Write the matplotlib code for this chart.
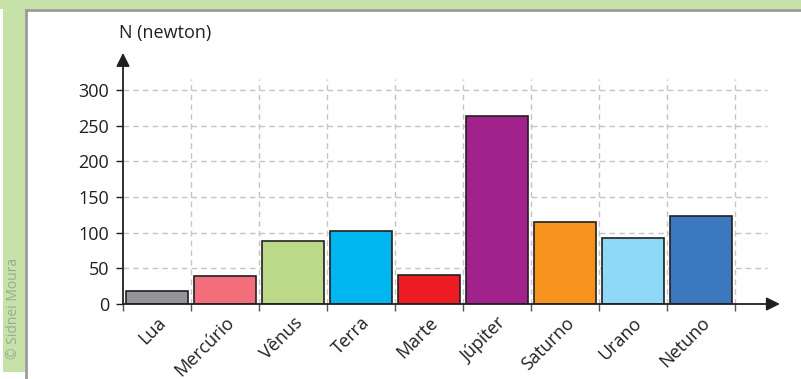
import matplotlib.pyplot as plt
from matplotlib.patches import Rectangle

plt.rcParams['font.family'] = ['Open Sans', 'DejaVu Sans']

# weight on each body (newton)
planets = ['Lua', 'Mercúrio', 'Vênus', 'Terra', 'Marte', 'Júpiter', 'Saturno', 'Urano', 'Netuno']
weights = [18, 39, 88, 102, 40, 264, 115, 93, 123]
colors = ['#939598', '#f16e7a', '#bcd98a', '#00b6ee', '#ed1c24', '#a0228a', '#f7941d', '#8ed8f8', '#3b78be']
yticks = [0, 50, 100, 150, 200, 250, 300]

ink = '#231f20'
grid_c = '#c4c4c4'

fig = plt.figure(figsize=(8.01, 3.79), dpi=100)
W, H = 801, 379

# green frame around the panel
fig.patches.append(Rectangle((0, 1 - 9 / H), 1, 9 / H, transform=fig.transFigure,
                             facecolor='#c6e2a9', edgecolor='none', zorder=0))
fig.patches.append(Rectangle((3 / W, 7 / H), 22 / W, 1 - 16 / H, transform=fig.transFigure,
                             facecolor='#c6e2a9', edgecolor='none', zorder=0))
fig.lines.append(plt.Line2D([26 / W, 26 / W], [0, 1 - 10 / H], transform=fig.transFigure,
                            color='#9a9a9a', lw=2))
fig.lines.append(plt.Line2D([26 / W, 1], [1 - 10 / H, 1 - 10 / H], transform=fig.transFigure,
                            color='#9a9a9a', lw=2))
fig.text(14 / W, 1 - 308 / H, '© Sidnei Moura', rotation=90, ha='center', va='center',
         fontsize=10, color='#9aa894')

# axes placed so that one category cell is 68 px wide
x0, y0 = 123, 304
px_x, px_y = 68, 214 / 300
left, right, top = 123, 780, 50
ax = fig.add_axes([left / W, (H - y0) / H, (right - left) / W, (y0 - top) / H])
ax.set_xlim(0, (right - left) / px_x)
ax.set_ylim(0, (y0 - top) / px_y)
ax.patch.set_alpha(0)
for s in ax.spines.values():
    s.set_visible(False)

# dashed grid
xmax_grid = (767 - left) / px_x
for v in yticks[1:]:
    ax.plot([0, xmax_grid], [v, v], color=grid_c, lw=1, ls=(0, (4, 3)), zorder=1)
for i in range(1, len(planets) + 1):
    ax.plot([i, i], [0, 315], color=grid_c, lw=1, ls=(0, (4, 3)), zorder=1)

centers = [i + 0.5 for i in range(len(planets))]
ax.bar(centers, weights, width=0.9, color=colors, edgecolor=ink, linewidth=1.2, zorder=3)

# axis arrows
ax.annotate('', xy=(9.66, 0), xytext=(0, 0),
            arrowprops=dict(arrowstyle='-|>', color=ink, lw=1.3, mutation_scale=20,
                            shrinkA=0, shrinkB=0), zorder=5)
ax.annotate('', xy=(0, 352), xytext=(0, 0),
            arrowprops=dict(arrowstyle='-|>', color=ink, lw=1.3, mutation_scale=20,
                            shrinkA=0, shrinkB=0), zorder=5)

ax.set_yticks(yticks)
ax.set_yticklabels([str(v) for v in yticks])
ax.tick_params(axis='y', length=5, width=1, color=ink, pad=5, labelsize=13, labelcolor=ink)

ax.set_xticks(centers)
ax.set_xticklabels(planets, rotation=45, ha='right', rotation_mode='anchor')
ax.tick_params(axis='x', which='major', length=0, pad=7, labelsize=13, labelcolor=ink)
ax.set_xticks(range(0, len(planets) + 1), minor=True)
ax.tick_params(axis='x', which='minor', length=5, width=1, color='#555555')

fig.text(165 / W, 1 - 33 / H, 'N (newton)', ha='center', va='center', fontsize=13, color=ink)

fig.savefig('out.png', dpi=100)
